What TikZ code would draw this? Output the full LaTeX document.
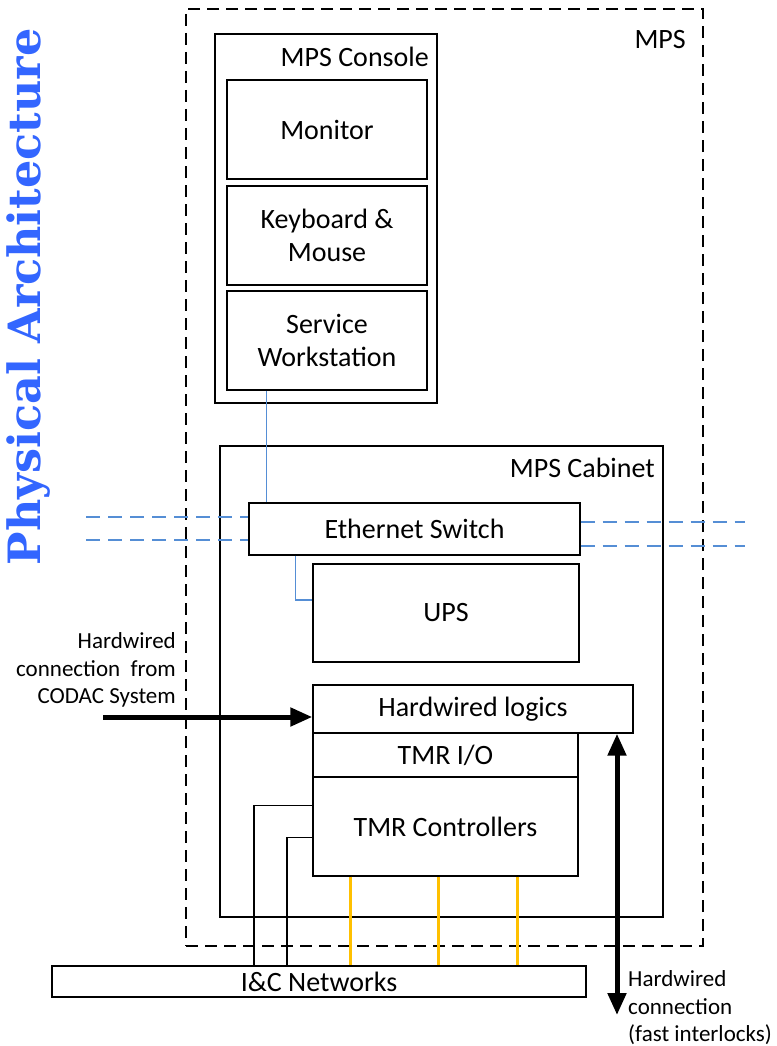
\documentclass[tikz,border=0pt]{standalone}
\usepackage{fontspec}
\newfontfamily\labelfont{Carlito}
\newfontfamily\titlefont{DejaVu Serif}
\usetikzlibrary{arrows.meta, positioning, calc}
\definecolor{lanBlue}{HTML}{558ED5}
\definecolor{ioOrange}{HTML}{FFC000}
\definecolor{titleBlue}{HTML}{3366FF}
\tikzset{
  box/.style={draw, line width=1.4pt, fill=white, inner sep=0pt, align=center,
    font=\labelfont\fontsize{28}{33}\selectfont},
  group/.style={draw, line width=1.4pt, inner sep=0pt},
  grouplbl/.style={anchor=east, inner sep=0pt, font=\labelfont\fontsize{28}{33}\selectfont},
  note/.style={inner sep=0pt, font=\labelfont\fontsize{23}{27.5}\selectfont},
  lan/.style={lanBlue, line width=1.3pt},
  lanext/.style={lanBlue, line width=1.5pt, dash pattern=on 14pt off 8pt},
  wire/.style={line width=1.2pt},
  io/.style={ioOrange, line width=2.5pt},
  hw/.style={line width=5pt, -{Triangle[length=22pt,width=18pt]}},
  hwboth/.style={line width=5pt, {Triangle[length=22pt,width=18pt]}-{Triangle[length=22pt,width=18pt]}}
}

\begin{document}
\begin{tikzpicture}[x=1pt, y=-1pt]
    \useasboundingbox (0,0) rectangle (776,1046);

    % title
    \node[rotate=90, text=titleBlue, font=\titlefont\bfseries\fontsize{44.5}{50}\selectfont] (title) at (29,297) {Physical Architecture};

    % MPS
    \node[group, dashed, dash pattern=on 12pt off 7pt, minimum width=517pt, minimum height=937pt] (mps) at (444.5,477.5) {};
    \node[grouplbl] (mpslbl) at (686,40) {MPS};

    % console
    \node[group, minimum width=222pt, minimum height=369pt] (console) at (326,218.5) {};
    \node[grouplbl] (consolelbl) at (429,57) {MPS Console};
    \node[box, minimum width=200pt, minimum height=99pt] (monitor) at (327,129.5) {Monitor};
    \node[box, minimum width=200pt, minimum height=99pt] (keyboard) at (327,235.5) {Keyboard \&\\Mouse};
    \node[box, minimum width=200pt, minimum height=99pt] (service) at (327,340.5) {Service\\Workstation};

    % cabinet
    \node[group, minimum width=443pt, minimum height=471pt] (cabinet) at (441.5,681.5) {};
    \node[grouplbl] (cabinetlbl) at (655,468) {MPS Cabinet};
    \node[box, minimum width=331pt, minimum height=52pt] (switch) at (414.5,529) {Ethernet Switch};
    \node[box, minimum width=266pt, minimum height=98pt] (ups) at (446,613) {UPS};
    \node[box, minimum width=320pt, minimum height=48pt] (hwlogic) at (473,709) {Hardwired logics};
    \node[box, minimum width=265pt, minimum height=44pt] (tmrio) at (445.5,755) {TMR I/O};
    \node[box, minimum width=265pt, minimum height=99pt] (tmrctl) at (445.5,826.5) {TMR Controllers};

    \node[box, minimum width=534pt, minimum height=31pt] (icnet) at (319,981.5) {I\&C Networks};

    % network links
    \coordinate (swtop) at ($(service.south west)!0.2!(service.south east)$);
    \draw[lan] (swtop) -- (swtop |- switch.north);
    \coordinate (upslink) at ($(ups.north west)!0.37!(ups.south west)$);
    \draw[lan] ($(switch.south west)+(47,0)$) |- (upslink);

    \coordinate (extl1) at (86,517);
    \coordinate (extl2) at (86,540);
    \coordinate (extr1) at (745,522);
    \coordinate (extr2) at (745,546);
    \draw[lanext] (extl1) -- (extl1 -| switch.west);
    \draw[lanext] (extl2) -- (extl2 -| switch.west);
    \draw[lanext] (extr1 -| switch.east) -- (extr1);
    \draw[lanext] (extr2 -| switch.east) -- (extr2);

    % controllers to I&C
    \coordinate (net1) at (254,0);
    \coordinate (net2) at (287,0);
    \draw[wire] ($(tmrctl.north west)+(0,29)$) -| (net1 |- icnet.north);
    \draw[wire] ($(tmrctl.north west)+(0,61)$) -| (net2 |- icnet.north);
    \foreach \dx in {38,126,205} {
      \coordinate (ioout) at ($(tmrctl.south west)+(\dx,0)$);
      \draw[io] (ioout) -- (ioout |- icnet.north);
    }

    % hardwired connections
    \coordinate (codac) at (103,717);
    \draw[hw] (codac) -- (codac -| hwlogic.west);
    \node[note, align=right, anchor=east] (codaclbl) at (176,670) {Hardwired\\connection~~from\\CODAC System};

    \coordinate (fastend) at (617,1015);
    \draw[hwboth] (fastend |- hwlogic.south) -- (fastend);
    \node[note, align=left, anchor=west] (fastlbl) at (628,1008) {Hardwired\\connection\\(fast interlocks)};
  \end{tikzpicture}
\end{document}
